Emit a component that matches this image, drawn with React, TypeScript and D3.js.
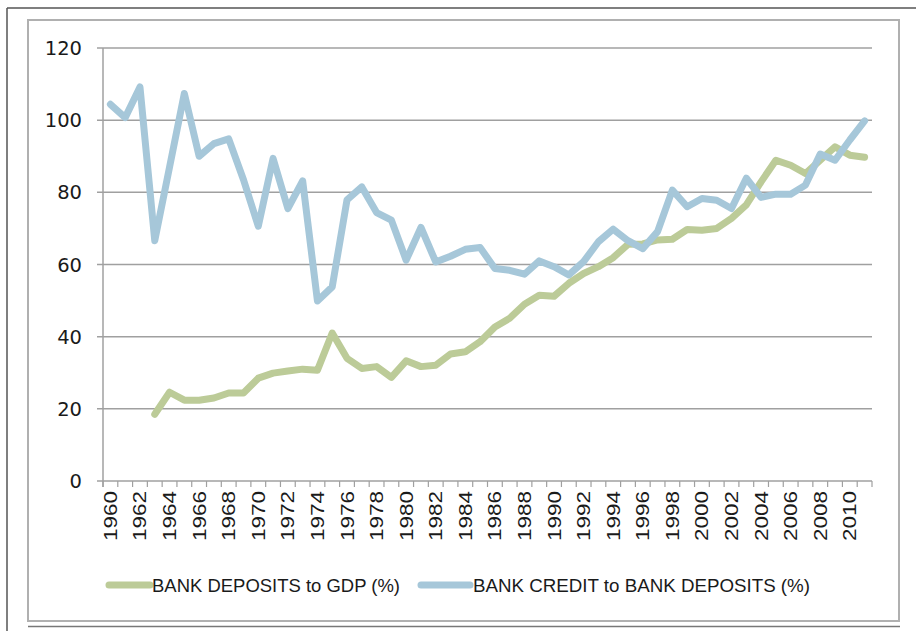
import React from "react";
import * as d3 from "d3";

const years: number[] = d3.range(1960, 2012);
const tickYears: number[] = d3.range(1960, 2011, 2);
const yTicks: number[] = [0, 20, 40, 60, 80, 100, 120];

// BANK CREDIT to BANK DEPOSITS (%) 1960-2011
const creditToDeposits: number[] = [
  104.4, 100.7, 109.2, 66.6, 87.0, 107.4, 90.0, 93.5, 94.8, 83.5,
  70.6, 89.4, 75.5, 83.2, 49.9, 53.8, 77.9, 81.5, 74.4, 72.3,
  61.2, 70.3, 60.7, 62.3, 64.2, 64.7, 58.9, 58.4, 57.3, 61.0,
  59.4, 57.1, 60.8, 66.3, 69.8, 66.6, 64.4, 69.1, 80.6, 76.0,
  78.3, 77.8, 75.5, 83.9, 78.6, 79.5, 79.5, 82.0, 90.6, 88.9,
  94.5, 99.8,
];

// BANK DEPOSITS to GDP (%) 1963-2011 (null before 1963)
const depositsToGdp: (number | null)[] = [
  null, null, null, 18.5, 24.6, 22.4, 22.4, 23.0, 24.4, 24.4,
  28.5, 29.9, 30.5, 31.0, 30.7, 41.0, 34.0, 31.2, 31.7, 28.7,
  33.3, 31.7, 32.1, 35.2, 35.8, 38.6, 42.7, 45.1, 49.0, 51.5,
  51.2, 54.8, 57.5, 59.4, 61.9, 65.6, 65.7, 66.8, 67.0, 69.7,
  69.5, 70.0, 72.8, 76.5, 82.9, 88.9, 87.5, 85.2, 88.9, 92.6,
  90.3, 89.7,
];

const seriesNames = ["BANK DEPOSITS to GDP (%)", "BANK CREDIT to BANK DEPOSITS (%)"];
const seriesColors = ["#bccb98", "#a6c7d9"];

export default function App() {
  const W = 916, H = 631;
  const left = 103, right = 872, top = 48, bottom = 481;

  const x = d3.scaleBand<number>().domain(years).range([left, right]).padding(0);
  const y = d3.scaleLinear().domain([0, 120]).range([bottom, top]);
  const cx = (yr: number) => (x(yr) as number) + x.bandwidth() / 2;

  const line = d3
    .line<[number, number | null]>()
    .defined((d) => d[1] !== null)
    .x((d) => cx(d[0]))
    .y((d) => y(d[1] as number))
    .curve(d3.curveLinear);

  const greenPath = line(years.map((yr, i) => [yr, depositsToGdp[i]]));
  const bluePath = line(years.map((yr, i) => [yr, creditToDeposits[i]]));

  const boundaries = [...years.map((yr) => x(yr) as number), right];

  return (
    <svg
      width={W}
      height={H}
      style={{ position: "absolute", left: 0, top: 0, background: "#fff" }}
    >
      {/* outer page frame */}
      <line x1={7} y1={8} x2={916} y2={8} stroke="#555" strokeWidth={1.5} />
      <line x1={7} y1={8} x2={7} y2={631} stroke="#555" strokeWidth={1.5} />
      {/* chart box */}
      <rect x={28} y={20} width={871} height={601} fill="#fff" stroke="#b0b0b0" strokeWidth={2} />
      <line x1={28} y1={626.5} x2={900} y2={626.5} stroke="#777" strokeWidth={1.5} />

      {/* gridlines */}
      {yTicks.map((t) => (
        <line key={"g" + t} x1={left - 6} x2={right} y1={y(t)} y2={y(t)} stroke="#a0a0a0" strokeWidth={1.5} />
      ))}
      {/* y axis */}
      <line x1={left} x2={left} y1={top} y2={bottom + 6} stroke="#a0a0a0" strokeWidth={1.5} />
      {yTicks.map((t) => (
        <text
          key={"yl" + t}
          x={82}
          y={y(t)}
          dy="0.36em"
          textAnchor="end"
          fontFamily="DejaVu Sans"
          fontSize={19.5}
          fill="#1a1a1a"
        >
          {t}
        </text>
      ))}
      {/* x axis ticks */}
      {boundaries.map((b, i) => (
        <line key={"xt" + i} x1={b} x2={b} y1={bottom} y2={bottom + 6} stroke="#a0a0a0" strokeWidth={1.2} />
      ))}
      {tickYears.map((yr) => (
        <text
          key={"xl" + yr}
          transform={`translate(${cx(yr) + 6.5},${bottom + 10}) rotate(-90)`}
          textAnchor="end"
          fontFamily="Liberation Sans"
          fontSize={18}
          textLength={50}
          lengthAdjust="spacingAndGlyphs"
          fill="#1a1a1a"
        >
          {yr}
        </text>
      ))}

      {/* series */}
      <path d={greenPath ?? ""} fill="none" stroke={seriesColors[0]} strokeWidth={7} strokeLinejoin="round" strokeLinecap="round" />
      <path d={bluePath ?? ""} fill="none" stroke={seriesColors[1]} strokeWidth={7} strokeLinejoin="round" strokeLinecap="round" />

      {/* legend */}
      <line x1={109} x2={150} y1={585} y2={585} stroke={seriesColors[0]} strokeWidth={7} strokeLinecap="round" />
      <text x={152} y={591.5} fontFamily="Liberation Sans" fontSize={19} textLength={248} lengthAdjust="spacingAndGlyphs" fill="#1a1a1a">
        {seriesNames[0]}
      </text>
      <line x1={421} x2={470} y1={585} y2={585} stroke={seriesColors[1]} strokeWidth={7} strokeLinecap="round" />
      <text x={473} y={591.5} fontFamily="Liberation Sans" fontSize={19} textLength={337} lengthAdjust="spacingAndGlyphs" fill="#1a1a1a">
        {seriesNames[1]}
      </text>
    </svg>
  );
}
